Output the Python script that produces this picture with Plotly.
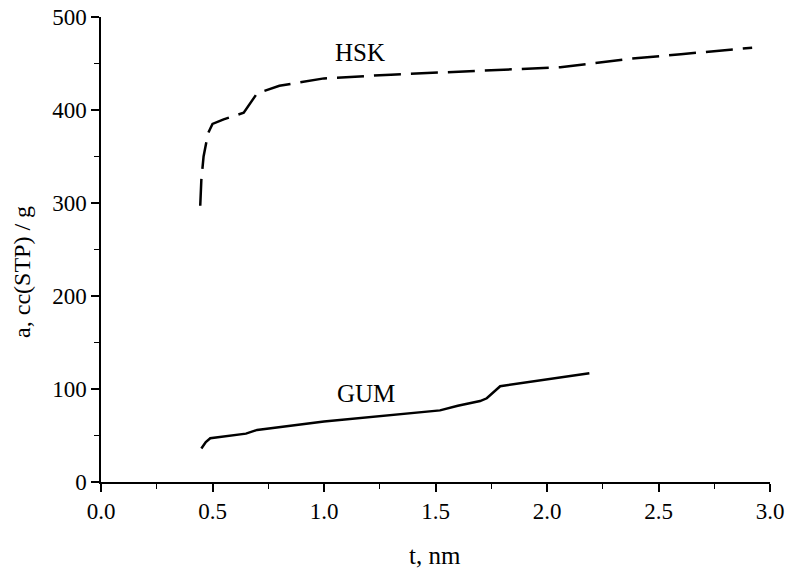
import plotly.graph_objects as go

hsk_t = [0.445, 0.45, 0.46, 0.47, 0.48, 0.50, 0.55, 0.64, 0.70, 0.80, 1.00, 1.30, 1.70, 2.06, 2.20, 2.37, 2.60, 2.92]
hsk_a = [297, 325, 350, 362, 375, 385, 390, 397, 418, 426, 434, 438, 442, 446, 450, 455, 460, 467]

gum_t = [0.45, 0.47, 0.49, 0.55, 0.65, 0.70, 1.00, 1.52, 1.60, 1.70, 1.73, 1.79, 2.19]
gum_a = [36, 43, 47, 49, 52, 56, 65, 77, 82, 87, 90, 103, 117]

labels = [("HSK", 1.16, 462), ("GUM", 1.19, 95)]
x_title = "t, nm"
y_title = "a, cc(STP) / g"

font = "Liberation Serif"

fig = go.Figure()
fig.add_trace(go.Scatter(x=hsk_t, y=hsk_a, mode="lines",
                         line=dict(color="black", width=2.5, dash="27px,10px"),
                         showlegend=False))
fig.add_trace(go.Scatter(x=gum_t, y=gum_a, mode="lines",
                         line=dict(color="black", width=2.5),
                         showlegend=False))
for txt, x, y in labels:
    fig.add_annotation(x=x, y=y, text=txt, showarrow=False,
                       font=dict(family=font, size=25, color="black"))

fig.add_annotation(xref="paper", yref="paper", x=-0.118, y=0.452, text=y_title,
                   textangle=-90, showarrow=False, xanchor="center", yanchor="middle",
                   font=dict(family=font, size=24, color="black"))
fig.add_annotation(xref="paper", yref="paper", x=0.499, y=-0.158, text=x_title,
                   showarrow=False, xanchor="center", yanchor="middle",
                   font=dict(family=font, size=25, color="black"))

axis_common = dict(showline=True, linecolor="black", linewidth=1.5,
                   ticks="outside", ticklen=8, tickwidth=1.5, tickcolor="black",
                   showgrid=False, zeroline=False, mirror=False, automargin=False,
                   tickfont=dict(family=font, size=23, color="black"))
fig.update_xaxes(range=[0, 3], dtick=0.5, tickformat=".1f",
                 minor=dict(ticks="outside", ticklen=5, tickwidth=1.2, dtick=0.25, tickcolor="black"),
                 **axis_common)
fig.update_yaxes(range=[0, 500], dtick=100,
                 minor=dict(ticks="outside", ticklen=5, tickwidth=1.2, dtick=50, tickcolor="black"),
                 **axis_common)
fig.update_layout(width=789, height=575, plot_bgcolor="white", paper_bgcolor="white",
                  margin=dict(l=101, r=19, t=17, b=93))
fig.write_html("out.html")
